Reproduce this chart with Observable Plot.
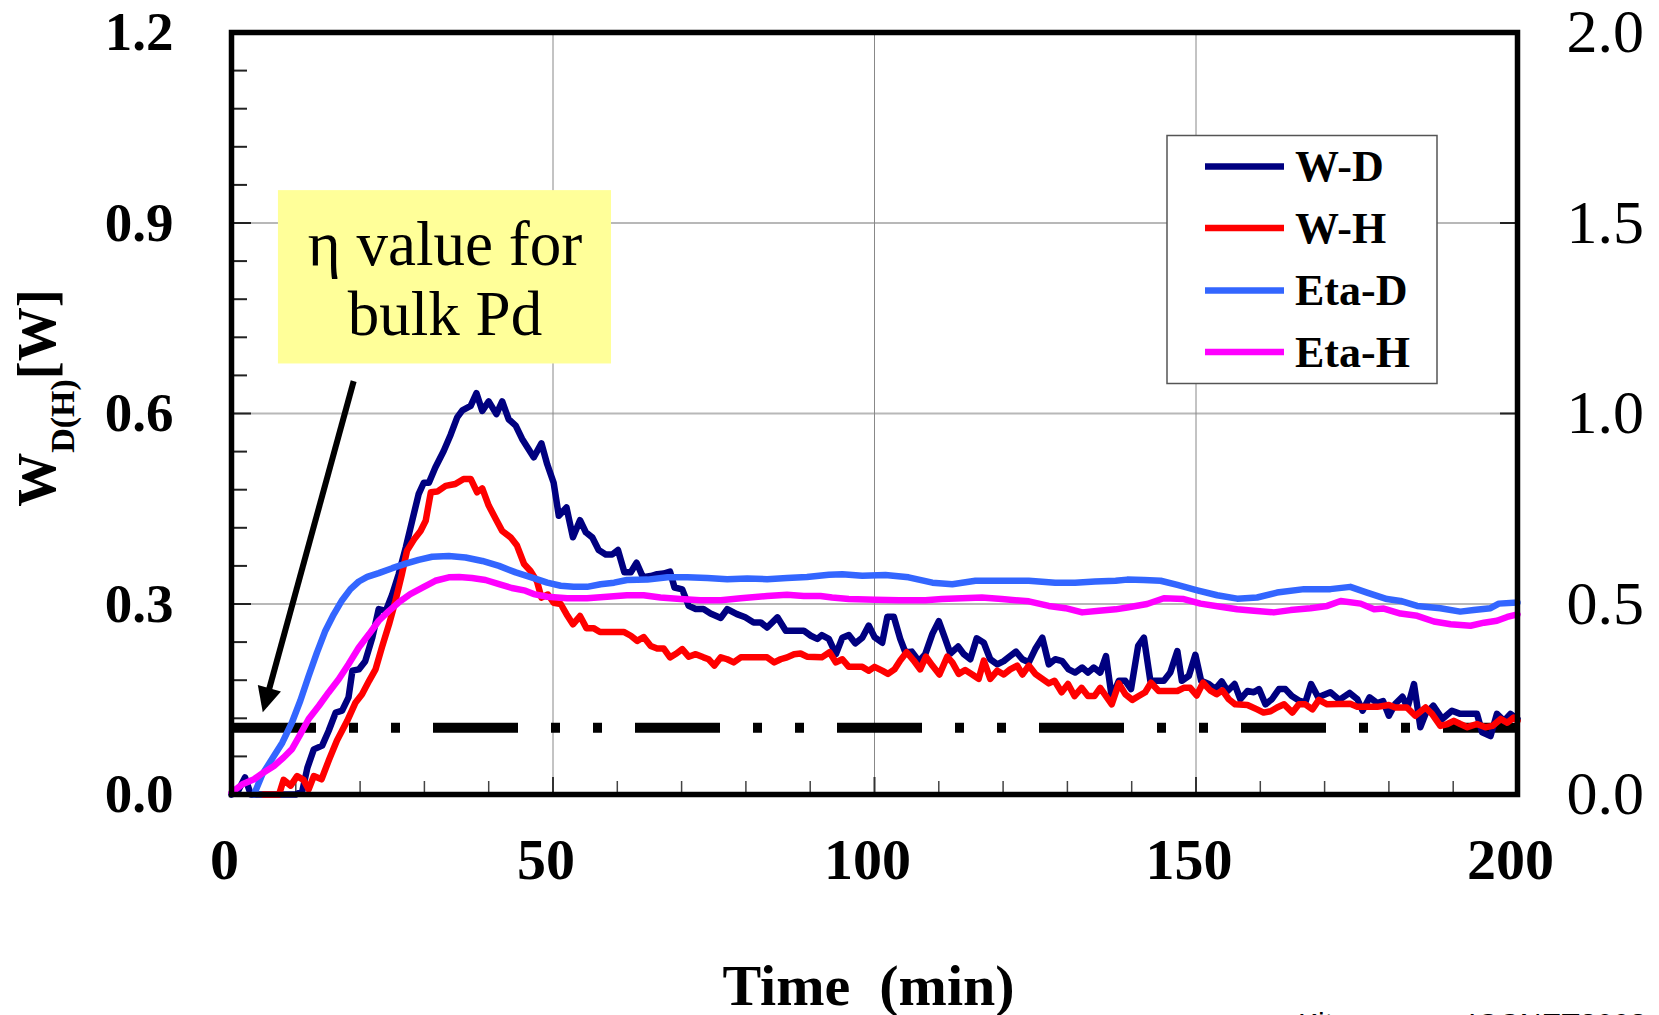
<!DOCTYPE html>
<html><head><meta charset="utf-8">
<script src="https://cdn.jsdelivr.net/npm/d3@7"></script>
<script src="https://cdn.jsdelivr.net/npm/@observablehq/plot@0.6"></script>
<style>html,body{margin:0;padding:0;background:#fff;overflow:hidden}</style>
</head><body><div id="chart"></div>
<script>
// ---------------- data (time in min, W in watts, Eta on right axis) ----------------
const seriesNames = ["W-D", "W-H", "Eta-D", "Eta-H"];
const xTicks = [0, 50, 100, 150, 200];
const yTicksLeft = [0, 0.3, 0.6, 0.9, 1.2];
const yTicksRight = [0, 0.5, 1.0, 1.5, 2.0];
const etaBulk = 0.175; // eta value for bulk Pd (right axis)

const wD = [[0,0],[1,0.005],[2.1,0.027],[3,0],[4,0],[6,0],[8,0],[10,0],[11,0.005],[11.8,0.042],[12.8,0.071],[14.1,0.077],[15.1,0.10],[16.2,0.129],[17.2,0.132],[18.2,0.153],[18.8,0.195],[19.8,0.197],[20.8,0.21],[21.9,0.247],[22.9,0.292],[24,0.289],[25,0.315],[26,0.347],[27.1,0.389],[28.1,0.431],[29.1,0.473],[29.9,0.491],[30.7,0.491],[31.7,0.515],[33,0.541],[34.1,0.567],[35.1,0.594],[35.9,0.605],[37.2,0.612],[38.1,0.632],[39,0.604],[40,0.619],[41.2,0.599],[42.1,0.619],[43.1,0.591],[44.2,0.581],[45.2,0.56],[47,0.531],[48.2,0.553],[49.1,0.520],[50.1,0.491],[50.9,0.439],[52.1,0.452],[53.1,0.405],[54.2,0.432],[55.1,0.413],[56.1,0.405],[57.1,0.385],[58.2,0.378],[59.2,0.378],[60.1,0.385],[61.1,0.350],[62.1,0.350],[63,0.365],[64,0.342],[65.2,0.344],[66.2,0.347],[67.2,0.348],[68.2,0.351],[68.9,0.326],[70.1,0.323],[71.1,0.297],[72.2,0.292],[73.4,0.292],[74.5,0.285],[76.1,0.278],[77.1,0.292],[78.6,0.284],[79.9,0.279],[81.2,0.271],[82.3,0.271],[83.3,0.263],[84.9,0.279],[86.2,0.258],[87.5,0.258],[89,0.258],[90.1,0.25],[91.1,0.245],[91.8,0.251],[92.9,0.245],[94,0.221],[95,0.247],[96,0.251],[97,0.238],[98.1,0.247],[99.1,0.266],[100,0.248],[101.2,0.239],[102,0.28],[103,0.28],[104,0.245],[104.8,0.224],[105.8,0.225],[106.9,0.21],[107.9,0.221],[109,0.253],[110,0.273],[111,0.245],[111.8,0.222],[113,0.233],[113.9,0.221],[114.9,0.213],[115.9,0.246],[117,0.239],[118,0.213],[119.1,0.205],[120.1,0.21],[121.1,0.218],[122,0.225],[123,0.213],[124,0.208],[125,0.229],[126.1,0.247],[127.1,0.205],[128.1,0.213],[129.2,0.21],[130.2,0.197],[131.2,0.192],[132.3,0.2],[133.2,0.192],[134.1,0.2],[135.1,0.192],[136,0.218],[136.9,0.153],[138,0.179],[139,0.179],[139.9,0.166],[141,0.234],[141.9,0.247],[142.9,0.179],[144,0.179],[145,0.179],[146,0.192],[147.1,0.226],[147.8,0.179],[148.9,0.187],[149.9,0.22],[150.8,0.179],[152,0.174],[153,0.166],[154,0.178],[154.9,0.163],[156,0.174],[156.9,0.15],[158,0.163],[159,0.161],[159.8,0.166],[160.8,0.142],[161.8,0.15],[162.9,0.166],[163.9,0.166],[164.9,0.155],[166,0.148],[167,0.145],[167.9,0.174],[169,0.153],[170.9,0.161],[172.3,0.149],[173.9,0.16],[175.1,0.15],[175.9,0.132],[177,0.153],[178.2,0.144],[179.1,0.147],[180,0.124],[181,0.143],[182.1,0.154],[182.9,0.137],[183.9,0.174],[184.9,0.106],[185.7,0.127],[186.9,0.14],[188.3,0.119],[189.8,0.132],[191.1,0.127],[192.7,0.127],[193.7,0.127],[194.5,0.098],[195.8,0.092],[196.8,0.127],[197.9,0.116],[198.9,0.127],[200,0.119]];

const wH = [[5,0],[7.4,0],[8.1,0.023],[9.2,0.014],[10.2,0.029],[11.2,0.023],[12,0.008],[12.8,0.029],[14,0.024],[15.1,0.053],[16.4,0.085],[18,0.116],[19.3,0.145],[20.3,0.158],[21.4,0.179],[22.4,0.197],[23.4,0.232],[24.5,0.268],[25.5,0.305],[26.5,0.347],[27.3,0.384],[28.4,0.402],[29.4,0.415],[30.2,0.431],[31,0.476],[32,0.477],[33.3,0.486],[34.8,0.489],[36.1,0.497],[37.2,0.497],[38.2,0.476],[39,0.482],[40,0.455],[41.1,0.434],[42.1,0.415],[43.4,0.405],[44.4,0.392],[45.5,0.363],[46.5,0.352],[47.5,0.336],[48.2,0.31],[49.2,0.315],[50.1,0.302],[51.2,0.3],[52.1,0.284],[53.1,0.268],[54.2,0.281],[55.2,0.262],[56.3,0.262],[57.3,0.256],[59.5,0.256],[61,0.256],[62.1,0.25],[63.1,0.242],[64.1,0.248],[65.2,0.234],[66.2,0.23],[67.2,0.23],[68.2,0.216],[69.2,0.222],[70.1,0.229],[71.1,0.217],[72.2,0.221],[73.4,0.216],[74.2,0.213],[75.1,0.203],[76.1,0.216],[77.1,0.213],[78.1,0.208],[79.2,0.216],[83.3,0.216],[84.4,0.208],[85.4,0.213],[86.4,0.216],[87.5,0.221],[88.5,0.222],[89.5,0.217],[91.8,0.216],[93,0.224],[94,0.208],[95,0.213],[96,0.201],[98.1,0.201],[99.1,0.195],[100,0.201],[101.2,0.195],[102.1,0.19],[103.1,0.197],[104,0.211],[105,0.224],[106.1,0.211],[107.1,0.197],[108,0.217],[109,0.203],[110.1,0.189],[111.3,0.217],[112.1,0.208],[113.1,0.19],[114.1,0.196],[115.2,0.189],[116.2,0.182],[117,0.211],[118,0.182],[119.1,0.195],[120.1,0.189],[121.1,0.197],[122.2,0.203],[123,0.189],[124,0.203],[125,0.19],[126.1,0.182],[127.1,0.175],[128,0.179],[129.1,0.161],[130.1,0.174],[131.1,0.155],[132.2,0.168],[133.2,0.155],[134.2,0.155],[135.1,0.168],[136,0.155],[136.9,0.142],[138,0.175],[139,0.158],[140.1,0.149],[141.1,0.155],[142.1,0.161],[143,0.176],[144.2,0.163],[147.1,0.163],[148.1,0.168],[149.1,0.168],[150.1,0.156],[151.1,0.176],[152.2,0.164],[153.2,0.158],[154.1,0.164],[155.1,0.15],[156.1,0.142],[158,0.141],[159.5,0.134],[160.5,0.129],[161.6,0.131],[162.6,0.137],[163.7,0.142],[165,0.129],[166,0.142],[167,0.142],[168.1,0.134],[169.1,0.149],[170.4,0.142],[174,0.143],[175.1,0.138],[178.2,0.138],[180,0.141],[181,0.137],[182.8,0.137],[184.1,0.124],[185.7,0.137],[186.7,0.127],[188,0.108],[189.1,0.111],[190.1,0.116],[191.1,0.111],[192.2,0.106],[193.7,0.111],[195,0.106],[196.1,0.108],[197.4,0.119],[198.4,0.113],[199.4,0.121],[200,0.116]];

const etaD = [[3.5,0],[4.8,0.053],[6.3,0.093],[7.9,0.136],[9.4,0.189],[10.7,0.246],[12,0.311],[13.3,0.373],[14.6,0.43],[15.9,0.473],[17.2,0.51],[18.5,0.539],[19.8,0.559],[21.1,0.571],[22.9,0.581],[25,0.594],[27.1,0.606],[29.1,0.616],[31.2,0.624],[33.8,0.626],[36.4,0.622],[39,0.613],[41.6,0.6],[44.2,0.583],[47,0.568],[49.1,0.556],[51.2,0.548],[53.2,0.545],[55.3,0.545],[57.4,0.552],[59.5,0.556],[61.5,0.563],[64.7,0.564],[67.8,0.57],[70.9,0.57],[74,0.568],[77.1,0.565],[80.2,0.567],[83.3,0.565],[86.4,0.568],[89.5,0.571],[92.9,0.577],[95,0.578],[98.1,0.574],[101.7,0.576],[105.3,0.57],[109,0.556],[112.1,0.552],[115.7,0.561],[119.8,0.561],[124,0.561],[128.1,0.556],[131.2,0.556],[134.3,0.559],[137.5,0.561],[139.3,0.564],[141.9,0.563],[144.5,0.561],[147.1,0.55],[150.2,0.536],[153.3,0.523],[156.4,0.514],[159.5,0.517],[162.6,0.53],[166.8,0.539],[170.9,0.539],[174,0.545],[176.6,0.53],[179.7,0.513],[181.8,0.508],[184.4,0.495],[188,0.489],[191.1,0.48],[193.2,0.484],[195.8,0.489],[197.1,0.501],[200,0.504]];

const etaH = [[0,0.005],[0.4,0.01],[1.7,0.027],[3.5,0.04],[5,0.058],[6.6,0.075],[8.1,0.097],[9.4,0.119],[10.7,0.158],[12,0.198],[13.6,0.233],[15.1,0.268],[16.7,0.303],[18.2,0.342],[19.8,0.386],[21.4,0.421],[22.9,0.456],[24.5,0.482],[26,0.504],[27.8,0.526],[29.7,0.543],[31.7,0.561],[33.8,0.57],[35.4,0.571],[37.4,0.568],[39.5,0.563],[41.6,0.552],[43.6,0.542],[45.7,0.535],[47,0.526],[49.1,0.519],[52.2,0.515],[55.3,0.515],[58.4,0.519],[61.5,0.523],[64.1,0.523],[66.7,0.517],[69.8,0.513],[72.9,0.51],[76.1,0.51],[79.2,0.515],[83.3,0.521],[86.4,0.524],[89,0.521],[91.6,0.521],[93.4,0.517],[96,0.513],[100.1,0.511],[103.8,0.51],[107.9,0.51],[110.5,0.513],[113.6,0.515],[116.7,0.517],[119.8,0.513],[124,0.507],[127.1,0.495],[129.7,0.489],[132.3,0.478],[134.9,0.482],[137.5,0.486],[139.3,0.491],[142.4,0.5],[145,0.515],[148.1,0.513],[150.7,0.501],[153.8,0.493],[156.4,0.486],[159,0.482],[162.1,0.478],[164.7,0.484],[167.8,0.489],[170.4,0.495],[172.5,0.508],[175.6,0.501],[177.7,0.486],[179.2,0.488],[181.8,0.475],[184.4,0.469],[187,0.454],[189.6,0.447],[192.7,0.443],[194.8,0.451],[196.8,0.456],[198.4,0.466],[200,0.473]];

// annotation (data coordinates)
const noteLabel = "η value for\nbulk Pd";
const noteBox = {t1: 7.3, t2: 59.1, w1: 0.678, w2: 0.951};
const noteArrow = {t1: 19.0, w1: 0.651, t2: 5.15, w2: 0.140};

// ---------------- layout ----------------
const W = 1659, H = 1015;
const mL = 231, mR = 142, mT = 32, mB = 221;
const pxPerMin = (W - mL - mR) / 200;
const pxPerW = (H - mT - mB) / 1.2;
const etaScale = 1.2 / 2.0; // right axis -> left axis units
const serif = '"Liberation Serif","Times New Roman",Times,serif';
const colors = ["#000080", "#FF0000", "#3366FF", "#FF00FF"];
const lineW = 6.5;

const rows = (arr, k = 1) => arr.map(([t, v]) => ({t, v: v * k}));
const leftMinor = d3.range(0, 1.2001, 0.06).filter(v => Math.abs(v / 0.3 - Math.round(v / 0.3)) > 1e-6);
const leftMajor = [0.3, 0.6, 0.9];
const bottomMinor = d3.range(10, 200, 10).filter(v => v % 50 !== 0);
const bottomMajor = [50, 100, 150];

const lineOpts = (i) => ({x: "t", y: "v", stroke: colors[i], strokeWidth: lineW, strokeLinejoin: "round", strokeLinecap: "round"});

const chart = Plot.plot({
  width: W, height: H,
  marginLeft: mL, marginRight: mR, marginTop: mT, marginBottom: mB,
  x: {domain: [0, 200], axis: null},
  y: {domain: [0, 1.2], axis: null},
  style: {background: "white", overflow: "visible"},
  marks: [
    Plot.ruleY(leftMajor, {stroke: "#b8b8b8", strokeWidth: 2}),
    Plot.ruleX(bottomMajor, {stroke: "#888", strokeWidth: 1}),
    // inside ticks
    Plot.ruleY(leftMinor, {x1: 0, x2: 16 / pxPerMin, stroke: "#222", strokeWidth: 2}),
    Plot.ruleY(leftMajor, {x1: 0, x2: 20 / pxPerMin, stroke: "#222", strokeWidth: 2}),
    Plot.ruleY(leftMajor, {x1: 200, x2: 200 - 17 / pxPerMin, stroke: "#222", strokeWidth: 2}),
    Plot.ruleX(bottomMinor, {y1: 0, y2: 13 / pxPerW, stroke: "#444", strokeWidth: 1.5}),
    Plot.ruleX(bottomMajor, {y1: 0, y2: 17 / pxPerW, stroke: "#333", strokeWidth: 2}),
    // bulk Pd reference
    Plot.ruleY([etaBulk * etaScale], {stroke: "black", strokeWidth: 10, strokeDasharray: "85,33,9,33,9,33"}),
    // series
    Plot.line(rows(wD), lineOpts(0)),
    Plot.line(rows(wH), lineOpts(1)),
    Plot.line(rows(etaD, etaScale), lineOpts(2)),
    Plot.line(rows(etaH, etaScale), lineOpts(3)),
    Plot.frame({stroke: "black", strokeWidth: 5.5}),
    // annotation
    Plot.rect([noteBox], {x1: "t1", x2: "t2", y1: "w1", y2: "w2", fill: "#FFFF99"}),
    Plot.text([noteLabel], {x: () => (noteBox.t1 + noteBox.t2) / 2, y: () => (noteBox.w1 + noteBox.w2) / 2, text: d => d,
      fontSize: 63, fontFamily: serif, lineHeight: 1.12, fill: "black"}),
    Plot.link([noteArrow], {x1: "t1", y1: "w1", x2: "t2", y2: "w2", stroke: "black", strokeWidth: 6, strokeLinecap: "butt"}),
    // tick labels
    Plot.text(yTicksLeft, {y: d => d, text: d => d.toFixed(1), frameAnchor: "left", dx: -58, textAnchor: "end",
      fontSize: 55, fontWeight: "bold", fontFamily: serif, fill: "black"}),
    Plot.text(yTicksRight, {y: d => d * etaScale, text: d => d.toFixed(1), frameAnchor: "right", dx: 49, textAnchor: "start",
      fontSize: 62, fontFamily: serif, fill: "black"}),
    Plot.text(xTicks, {x: d => d, text: d => String(d), frameAnchor: "bottom", dy: 84, dx: -7,
      fontSize: 58, fontWeight: "bold", fontFamily: serif, fill: "black"}),
    Plot.text(["Time\u00a0 (min)"], {frameAnchor: "bottom", dy: 210, dx: -6, text: d => d,
      fontSize: 58, fontWeight: "bold", fontFamily: serif, fill: "black"})
  ]
});

document.getElementById("chart").appendChild(chart);
const svg = d3.select(chart);

// filled arrowhead
const defs = svg.append("defs");
defs.append("marker").attr("id", "ahead").attr("markerUnits", "userSpaceOnUse")
  .attr("markerWidth", 40).attr("markerHeight", 40).attr("refX", 0).attr("refY", 0)
  .attr("orient", "auto").attr("overflow", "visible")
  .append("path").attr("d", "M-18,-12 L7,0 L-18,12 Z").attr("fill", "black").attr("stroke", "none");
svg.selectAll('g[aria-label="link"] path').attr("marker-end", "url(#ahead)");

// y-axis title with subscript
const yt = svg.append("text")
  .attr("transform", "translate(55,398) rotate(-90)")
  .attr("text-anchor", "middle")
  .attr("font-family", serif).attr("font-weight", "bold").attr("font-size", 54).attr("fill", "black");
yt.append("tspan").text("W");
yt.append("tspan").attr("font-size", 34).attr("dy", 19).text("D(H)");
yt.append("tspan").attr("dy", -19).text("[W]");

// legend
const lg = svg.append("g").attr("text-anchor", "start");
lg.append("rect").attr("x", 1167).attr("y", 135.5).attr("width", 270).attr("height", 248)
  .attr("fill", "white").attr("stroke", "#555").attr("stroke-width", 1.5);
const legendY = [166.5, 228, 290.5, 352];
seriesNames.forEach((name, i) => {
  lg.append("line").attr("x1", 1205).attr("x2", 1284).attr("y1", legendY[i]).attr("y2", legendY[i])
    .attr("stroke", colors[i]).attr("stroke-width", 6.5);
  lg.append("text").attr("x", 1295).attr("y", legendY[i]).attr("dy", "0.34em").attr("text-anchor", "start")
    .attr("font-family", serif).attr("font-weight", "bold").attr("font-size", 44).attr("fill", "black").text(name);
});

// source watermark (cut off at bottom)
svg.append("text").attr("x", 1298).attr("y", 1034).attr("text-anchor", "start")
  .attr("font-family", '"Liberation Sans",Arial,sans-serif')
  .attr("font-size", 30).attr("fill", "black").text("Kitamura\u00a0\u00a0\u00a0\u00a0\u00a0\u00a0ICCNET2008");
</script>
</body></html>
